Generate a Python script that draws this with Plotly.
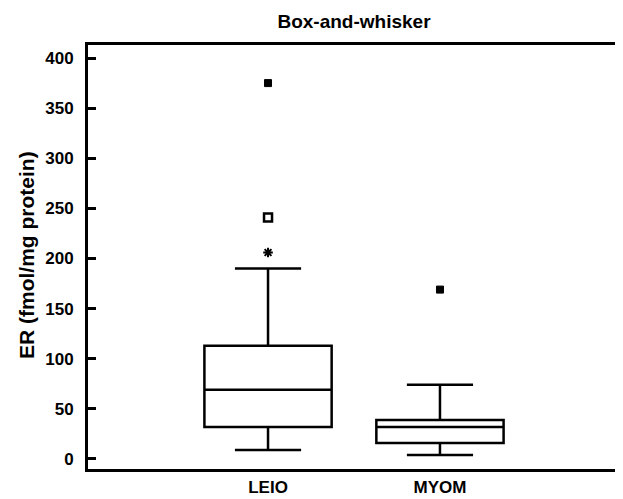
import plotly.graph_objects as go

categories = ["LEIO", "MYOM"]
lower_whisker = [9, 4]
q1 = [32, 16]
median = [69, 32]
q3 = [113, 39]
upper_whisker = [190, 74]

# outliers: (category, value)
outlier_cat = ["LEIO"]
outlier_val = [241]
extreme_star_cat = ["LEIO"]
extreme_star_val = [206]
far_cat = ["LEIO", "MYOM"]
far_val = [375, 169]

yticks = [0, 50, 100, 150, 200, 250, 300, 350, 400]

FONT = "Liberation Sans, Arial, sans-serif"

OFF = 8  # page body margin
W, H = 623 - OFF, 499 - OFF
L, R, T, B = 88 - OFF, 3, 45 - OFF, 30
PW = W - L - R

fig = go.Figure()
fig.add_trace(go.Box(
    x=categories, q1=q1, median=median, q3=q3,
    lowerfence=lower_whisker, upperfence=upper_whisker,
    fillcolor="white", line=dict(color="black", width=2.5),
    whiskerwidth=0.52, width=0.74, boxpoints=False, showlegend=False,
))
fig.add_trace(go.Scatter(x=far_cat, y=far_val, mode="markers", showlegend=False,
                         marker=dict(symbol="square", size=7, color="black",
                                     line=dict(color="black", width=1))))
fig.add_trace(go.Scatter(x=outlier_cat, y=outlier_val, mode="markers", showlegend=False,
                         marker=dict(symbol="square-open", size=8, color="black",
                                     line=dict(color="black", width=2.5))))
fig.add_trace(go.Scatter(x=extreme_star_cat, y=extreme_star_val, mode="markers", showlegend=False,
                         marker=dict(symbol="asterisk-open", size=8, color="black",
                                     line=dict(color="black", width=2))))

fig.update_layout(
    width=W, height=H,
    margin=dict(l=L, r=R, t=T, b=B, autoexpand=False),
    paper_bgcolor="white", plot_bgcolor="white",
    title=dict(text="<b>Box-and-whisker</b>", x=(354 - OFF) / W, xanchor="center",
               y=1 - (21 - OFF) / H, yanchor="middle",
               font=dict(family=FONT, size=19, color="black")),
    font=dict(family=FONT, color="black"),
    xaxis=dict(type="category", categoryorder="array", categoryarray=categories,
               range=[-1.047, 2.047], showline=True, linecolor="black", linewidth=3,
               mirror=True, ticks="", showgrid=False, zeroline=False, automargin=False,
               ticklabelstandoff=1,
               tickfont=dict(family=FONT, size=17, color="black"),
               tickvals=categories, ticktext=["<b>" + c + "</b>" for c in categories]),
    yaxis=dict(range=[-10, 413], showline=True, linecolor="black", linewidth=3,
               mirror=True, ticks="inside", ticklen=8, tickwidth=2.5, tickcolor="black",
               showgrid=False, zeroline=False, tickvals=yticks, automargin=False,
               ticktext=["<b>%d</b>" % v for v in yticks], ticklabelstandoff=8,
               tickfont=dict(family=FONT, size=17, color="black")),
    annotations=[dict(text="<b>ER (fmol/mg protein)</b>", textangle=-90,
                      xref="paper", yref="paper", x=(27 - 88) / PW,
                      y=(499 - B - 255) / (H - T - B),
                      xanchor="center", yanchor="middle", showarrow=False,
                      font=dict(family=FONT, size=21, color="black"))],
)

fig.write_html("out.html")
